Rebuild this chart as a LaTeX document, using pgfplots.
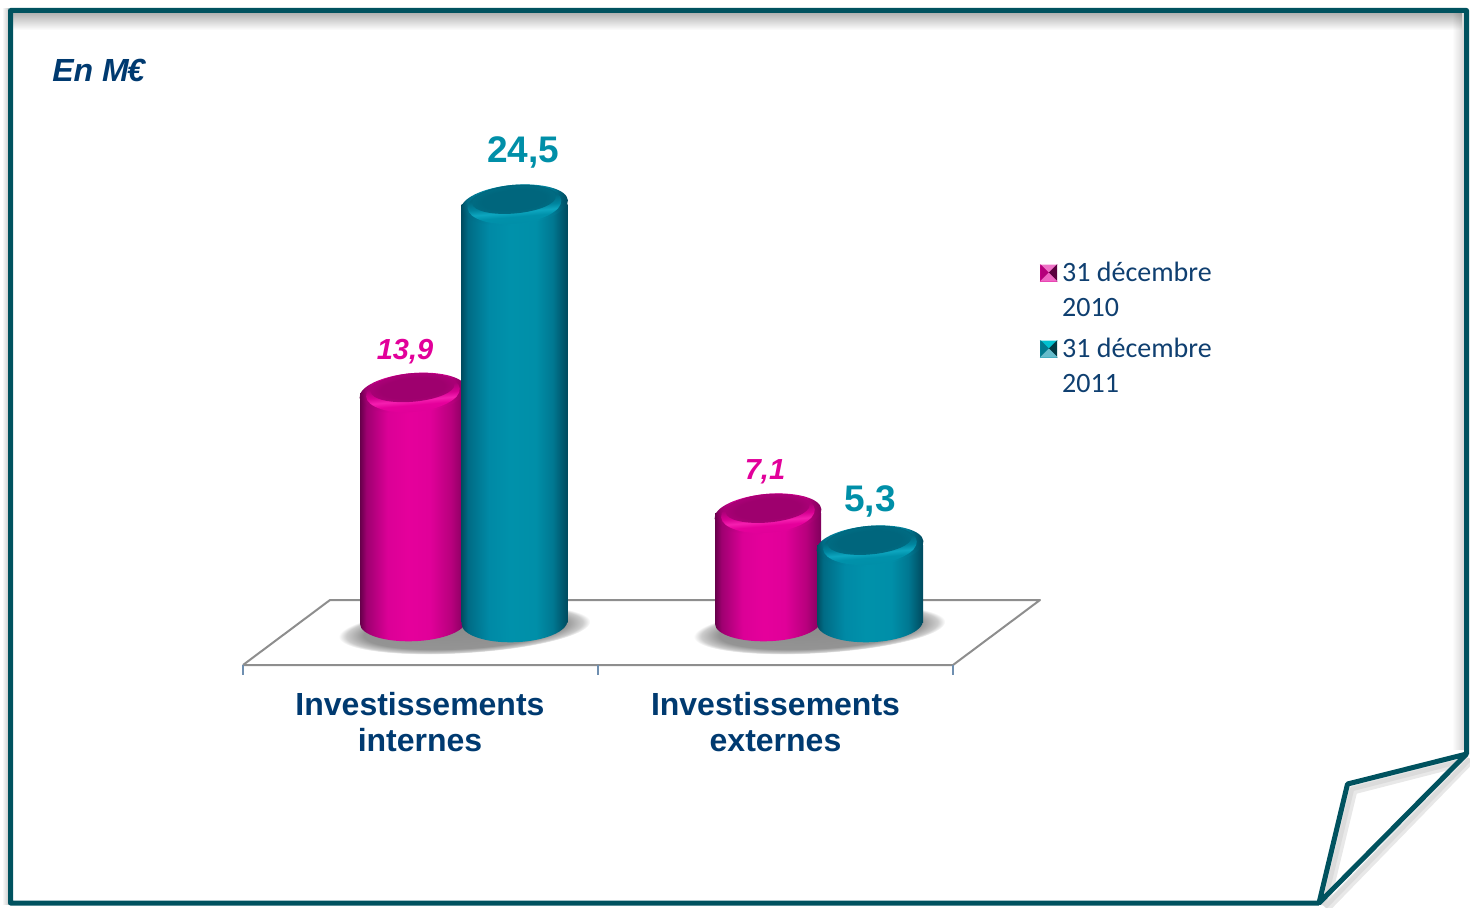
\documentclass[border=0pt]{standalone}
\usepackage{fontspec}
\setmainfont{Liberation Sans}
\newfontfamily\legendfont{Carlito}
\usepackage{pgfplots}
\usepackage{pgfplotstable}
\usetikzlibrary{fadings}
\pgfplotsset{compat=1.18}

% 1 px of the reference = 0.5pt here
\definecolor{framecol}{HTML}{00525F}
\definecolor{navy}{HTML}{003A70}
\definecolor{labmag}{HTML}{E2009A}
\definecolor{labteal}{HTML}{008FA8}
\definecolor{floorcol}{HTML}{8E8E8E}
\definecolor{tickcol}{HTML}{6F8FB0}
\definecolor{lineleg}{HTML}{0F3F70}

\pgfdeclarehorizontalshading{magbody}{100bp}{
  rgb(0bp)=(.40,0,.29); rgb(25bp)=(.40,0,.29); rgb(28bp)=(.62,0,.44); rgb(38bp)=(.86,0,.59);
  rgb(48bp)=(.90,0,.61); rgb(58bp)=(.88,0,.60); rgb(68bp)=(.72,0,.49); rgb(75bp)=(.50,0,.36); rgb(100bp)=(.50,0,.36)}
\pgfdeclarehorizontalshading{tealbody}{100bp}{
  rgb(0bp)=(0,.30,.38); rgb(25bp)=(0,.30,.38); rgb(28bp)=(0,.42,.52); rgb(38bp)=(0,.54,.65);
  rgb(48bp)=(0,.57,.67); rgb(60bp)=(0,.56,.66); rgb(68bp)=(0,.47,.57); rgb(75bp)=(0,.29,.37); rgb(100bp)=(0,.29,.37)}
\pgfdeclareverticalshading{maglip}{100bp}{
  rgb(0bp)=(.88,0,.60); rgb(25bp)=(.88,0,.60); rgb(34bp)=(.90,0,.61); rgb(40bp)=(.96,.12,.69);
  rgb(47bp)=(.84,0,.57); rgb(58bp)=(.66,0,.46); rgb(75bp)=(.66,0,.46); rgb(100bp)=(.66,0,.46)}
\pgfdeclareverticalshading{teallip}{100bp}{
  rgb(0bp)=(0,.56,.66); rgb(25bp)=(0,.56,.66); rgb(34bp)=(0,.57,.67); rgb(40bp)=(.05,.65,.75);
  rgb(47bp)=(0,.52,.62); rgb(58bp)=(0,.41,.50); rgb(75bp)=(0,.40,.49); rgb(100bp)=(0,.40,.49)}
\pgfdeclareradialshading{magtop}{\pgfpointorigin}{
  rgb(0bp)=(.62,0,.43); rgb(19bp)=(.62,0,.43); rgb(25bp)=(.66,0,.46); rgb(50bp)=(.66,0,.46)}
\pgfdeclareradialshading{tealtop}{\pgfpointorigin}{
  rgb(0bp)=(0,.40,.49); rgb(19bp)=(0,.40,.49); rgb(25bp)=(0,.42,.51); rgb(50bp)=(0,.42,.51)}
\pgfdeclareradialshading{softshadow}{\pgfpointorigin}{
  rgb(0bp)=(.55,.55,.55); rgb(20bp)=(.58,.58,.58); rgb(23.5bp)=(.80,.80,.80); rgb(25bp)=(1,1,1); rgb(50bp)=(1,1,1)}

% shaded tilted ellipse: tilt, x offset, y offset, x radius, y radius, shading
\newcommand\tiltell[6]{%
  \begin{pgfscope}
    \pgftransformrotate{#1}\pgflowlevelsynccm
    \pgfpathellipse{\pgfpoint{#2}{#3}}{\pgfpoint{#4}{0pt}}{\pgfpoint{0pt}{#5}}%
    \pgfshadepath{#6}{0}\pgfusepath{discard}%
  \end{pgfscope}}

\pgfdeclareplotmark{shadowmark}{\tiltell{3.5}{0pt}{-3.5pt}{63pt}{12pt}{softshadow}}
\pgfdeclareplotmark{magfoot}{\tiltell{2}{0pt}{0pt}{26.5pt}{9.5pt}{magbody}}
\pgfdeclareplotmark{tealfoot}{\tiltell{2}{0pt}{0pt}{26.5pt}{10pt}{tealbody}}
\pgfdeclareplotmark{magcap}{%
  \tiltell{5}{0pt}{0pt}{26.8pt}{10pt}{magbody}%
  \tiltell{5}{0pt}{.3pt}{23.5pt}{9.7pt}{maglip}%
  \tiltell{5}{0pt}{2.5pt}{21pt}{6.8pt}{magtop}}
\pgfdeclareplotmark{tealcap}{%
  \tiltell{5}{0pt}{0pt}{26.8pt}{10pt}{tealbody}%
  \tiltell{5}{0pt}{.3pt}{23.5pt}{9.7pt}{teallip}%
  \tiltell{5}{0pt}{2.5pt}{21pt}{6.8pt}{tealtop}}

% bevelled legend square: base, top, left, right, bottom
\newcommand\legsq[5]{%
  \fill[#1] (0pt,-5pt) rectangle (8pt,3pt);
  \fill[#2] (0pt,3pt) -- (8pt,3pt) -- (4pt,-1pt) -- cycle;
  \fill[#3] (0pt,-5pt) -- (0pt,3pt) -- (4pt,-1pt) -- cycle;
  \fill[#4] (8pt,-5pt) -- (8pt,3pt) -- (4pt,-1pt) -- cycle;
  \fill[#5] (0pt,-5pt) -- (8pt,-5pt) -- (4pt,-1pt) -- cycle;}

% x = bar centre (px), y = value, dx/dy = label offset from the top centre (pt)
\pgfplotstableread{
x     y     dx     dy
413   13.9  -4     21
768   7.1   -1.5   21
}\magdata
\pgfplotstableread{
x     y     dx     dy
514.5 24.5  4.25   26
870   5.3   0      22
}\tealdata

\pgfplotsset{
  value labels/.style={
    visualization depends on={\thisrow{dx} \as \dx},
    visualization depends on={\thisrow{dy} \as \dy},
    nodes near coords,
    every node near coord/.append style={anchor=center, xshift=\dx pt, yshift=\dy pt,
      /pgf/number format/fixed, /pgf/number format/fixed zerofill, /pgf/number format/precision=1,
      /pgf/number format/use comma, /pgf/number format/assume math mode=true},
  },
  mag bar/.style={forget plot, ybar, bar width=53pt, draw=none, shade, shading=magbody, value labels,
    every node near coord/.append style={text=labmag, font=\bfseries\itshape\fontsize{14.5}{16}\selectfont}},
  teal bar/.style={forget plot, ybar, bar width=53pt, draw=none, shade, shading=tealbody, value labels,
    every node near coord/.append style={text=labteal, font=\bfseries\fontsize{18.5}{20}\selectfont}},
}

\begin{document}
\begin{tikzpicture}
\useasboundingbox (0pt,0pt) rectangle (735pt,454pt);

% sheet, fold and floor, in reference pixels
\begin{axis}[
  at={(0pt,0pt)}, anchor=south west,
  scale only axis, width=735pt, height=454pt,
  xmin=0, xmax=1470, ymin=0, ymax=908, y dir=reverse,
  hide axis, clip=false,
]
  \fill[black, opacity=.3, path fading=south] (axis cs:12,13) rectangle (axis cs:1464,30);
  \fill[black, opacity=.16, path fading=west] (axis cs:1452,13) rectangle (axis cs:1464,750);
  \fill[black, opacity=.22, path fading=west] (axis cs:2,8) rectangle (axis cs:9,905);
  \addplot[black!9, line width=4.5pt, line join=round] coordinates {(1325,906)(1353,790)(1462,762)};
  \addplot[black!9, line width=4.5pt] coordinates {(1326,908)(1470,760)};
  \addplot[black!14, line width=2.2pt, line join=round] coordinates {(1324,905)(1352,789)(1462,761)};
  \addplot[black!14, line width=2.2pt] coordinates {(1325,907)(1470,759)};
  \addplot[framecol, line width=2.5pt, line join=round] coordinates {
    (1319,903)(10.5,903)(10.5,10.5)(1466.5,10.5)(1466.5,754)(1347.5,784)(1319,903)(1466.5,754)};
  \addplot[floorcol, line width=1pt, line join=round] coordinates {
    (243,665)(330,600)(1040,600)(953,665)(243,665)};
  \addplot[tickcol, line width=.7pt] coordinates {(243,665)(243,675)};
  \addplot[tickcol, line width=.7pt] coordinates {(598,665)(598,675)};
  \addplot[tickcol, line width=.7pt] coordinates {(953,665)(953,675)};
  \node[anchor=west, font=\bfseries\itshape\fontsize{16}{18}\selectfont, text=navy, inner sep=0pt]
    at (axis cs:52,70) {En M\kern-.8pt €};
\end{axis}

% the values
\begin{axis}[
  at={(0pt,142.88pt)}, anchor=south west,
  scale only axis, width=735pt, height=311.12pt,
  xmin=0, xmax=1470, ymin=1, ymax=36.036,
  clip mode=individual,
  axis line style={draw=none}, tick style={draw=none},
  ytick=\empty,
  xtick={420,775.5},
  xticklabels={{Investissements\\internes},{Investissements\\externes}},
  xticklabel style={align=center, text=navy, yshift=-31.5pt,
    font=\bfseries\fontsize{16}{18}\selectfont},
  legend cell align=left,
  legend style={at={(1040/1470,0.587)}, anchor=north west, draw=none, fill=none,
    row sep=24.25pt, inner sep=0pt, text=lineleg,
    font=\legendfont\fontsize{14}{17.5}\selectfont,
    nodes={inner sep=0pt, inner xsep=2.5pt}},
]
  \addlegendimage{legend image code/.code={\legsq{labmag}{labmag!55!white}{labmag!80!black}{labmag!40!black}{labmag!60!white}}}
  \addlegendentry{\begin{tabular}[t]{@{}l@{}}31 décembre\\2010\end{tabular}}
  \addlegendimage{legend image code/.code={\legsq{labteal}{labteal!55!cyan}{labteal!85!black}{labteal!40!black}{labteal!60!white}}}
  \addlegendentry{\begin{tabular}[t]{@{}l@{}}31 décembre\\2011\end{tabular}}

  % ground shadows, one for each pair of bars
  \addplot[forget plot, only marks, mark=shadowmark] coordinates {(464,1)(819,1)};

  % 31 décembre 2010
  \addplot[forget plot, only marks, mark=magfoot] table[x=x, y expr=1] {\magdata};
  \addplot[mag bar, skip coords between index={1}{2}] table[x=x, y=y] {\magdata};
  \addplot[mag bar, skip coords between index={0}{1}] table[x=x, y=y] {\magdata};
  \addplot[forget plot, only marks, mark=magcap] table[x=x, y=y] {\magdata};

  % 31 décembre 2011
  \addplot[forget plot, only marks, mark=tealfoot] table[x=x, y expr=1] {\tealdata};
  \addplot[teal bar, skip coords between index={1}{2}] table[x=x, y=y] {\tealdata};
  \addplot[teal bar, skip coords between index={0}{1}] table[x=x, y=y] {\tealdata};
  \addplot[forget plot, only marks, mark=tealcap] table[x=x, y=y] {\tealdata};
\end{axis}
\end{tikzpicture}
\end{document}
